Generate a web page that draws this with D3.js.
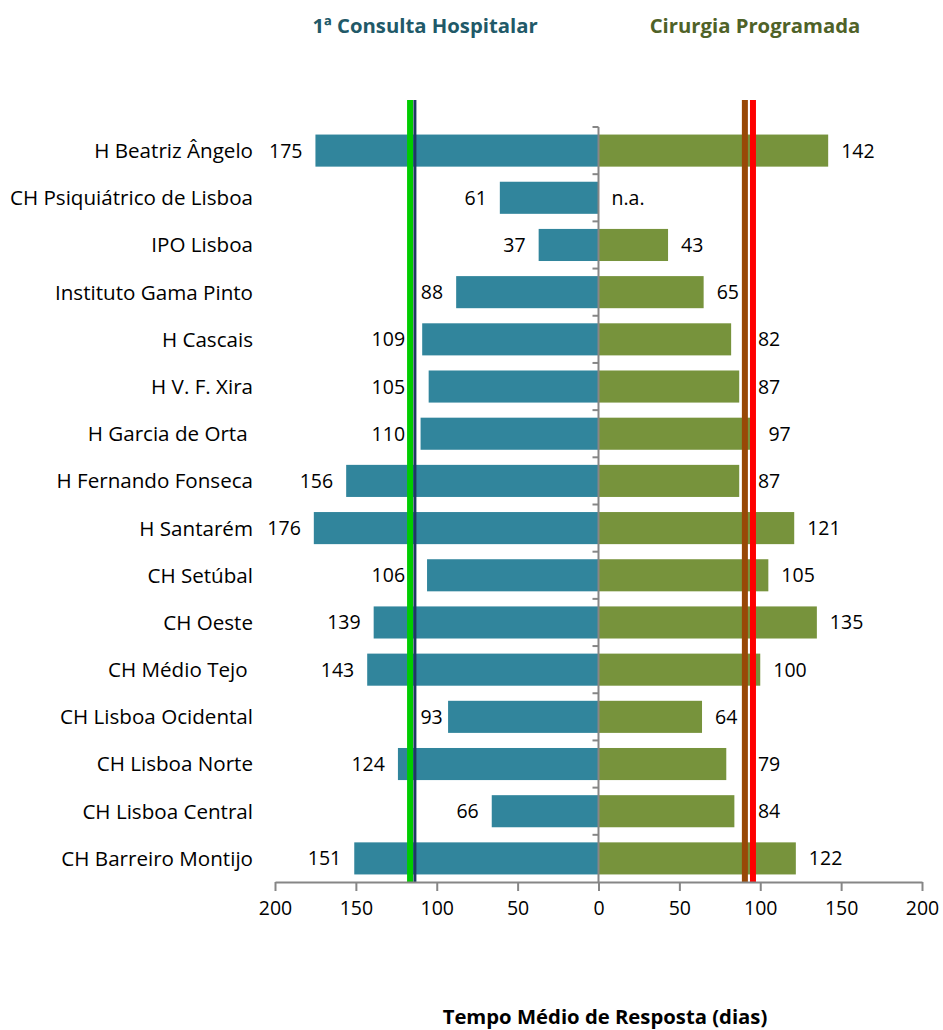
<!DOCTYPE html>
<html><head><meta charset="utf-8">
<script src="https://cdn.jsdelivr.net/npm/d3@7"></script>
<style>body{margin:0;background:#fff;} svg{display:block;font-family:"Open Sans",Lato,sans-serif;}</style>
</head><body><div id="chart"></div>
<script>
const categories = ["H Beatriz Ângelo","CH Psiquiátrico de Lisboa","IPO Lisboa","Instituto Gama Pinto","H Cascais","H V. F. Xira","H Garcia de Orta ","H Fernando Fonseca","H Santarém","CH Setúbal","CH Oeste","CH Médio Tejo ","CH Lisboa Ocidental","CH Lisboa Norte","CH Lisboa Central","CH Barreiro Montijo"];
const consulta = [175,61,37,88,109,105,110,156,176,106,139,143,93,124,66,151];
const cirurgia = [142,null,43,65,82,87,97,87,121,105,135,100,64,79,84,122];
const tickValues = [-200,-150,-100,-50,0,50,100,150,200];
const refLeft = [116.5, 113.5];
const refRight = [90.5, 95.5];
const naLabel = "n.a.";

const W = 943, H = 1030;
const svg = d3.select("#chart").append("svg").attr("width", W).attr("height", H);
const x = d3.scaleLinear().domain([-200, 200]).range([275, 922]);
const y = d3.scaleBand().domain(categories).range([127, 882]).paddingInner(0.32).paddingOuter(0.16);

const teal = "#31859C", green = "#77933C";
const fs = 19.5, fsCat = 20.6, fsTitle = 20.3;

// bars
svg.append("g").selectAll("rect").data(categories).join("rect")
  .attr("x", (d,i) => x(-consulta[i])).attr("width", (d,i) => x(0) - x(-consulta[i]))
  .attr("y", d => y(d)).attr("height", y.bandwidth()).attr("fill", teal);
svg.append("g").selectAll("rect").data(categories.filter((d,i)=>cirurgia[i]!=null)).join("rect")
  .attr("x", x(0)).attr("width", d => x(cirurgia[categories.indexOf(d)]) - x(0))
  .attr("y", d => y(d)).attr("height", y.bandwidth()).attr("fill", green);

// category labels
svg.append("g").selectAll("text").data(categories).join("text")
  .attr("x", 253).attr("y", d => y(d) + y.bandwidth()/2).attr("dy", "0.36em")
  .attr("text-anchor", "end").attr("font-size", fsCat).attr("fill", "#000")
  .style("white-space", "pre").text(d => d);

// center axis
const axisCol = "#868686";
svg.append("line").attr("x1", x(0)).attr("x2", x(0)).attr("y1", 127).attr("y2", 882).attr("stroke", axisCol).attr("stroke-width", 2);
const bounds = d3.range(categories.length).map(i => 127 + i * (882-127)/categories.length);
svg.append("g").selectAll("line").data(bounds).join("line")
  .attr("x1", x(0)-6).attr("x2", x(0)).attr("y1", d=>d).attr("y2", d=>d).attr("stroke", axisCol).attr("stroke-width", 2);

// reference lines
const refCols = ["#00CC00", "#1F3864"], refW = [6, 3];
refLeft.forEach((v,i) => svg.append("line").attr("x1", x(-v)).attr("x2", x(-v)).attr("y1", 100).attr("y2", 882)
  .attr("stroke", refCols[i]).attr("stroke-width", refW[i]));
const refColsR = ["#984807", "#FF0000"];
refRight.forEach((v,i) => svg.append("line").attr("x1", x(v)).attr("x2", x(v)).attr("y1", 100).attr("y2", 882)
  .attr("stroke", refColsR[i]).attr("stroke-width", 6));

// zones occupied by reference lines (pixel)
const zoneL = [x(-refLeft[0]) - 3, x(-refLeft[1]) + 1.5];
const zoneR = [x(refRight[0]) - 3, x(refRight[1]) + 3];
const gap = 13, pad = 2;

svg.append("g").selectAll("text").data(categories).join("text")
  .attr("y", d => y(d) + y.bandwidth()/2)
  .attr("dy", "0.36em").attr("text-anchor", "start").attr("font-size", fs).attr("fill", "#000")
  .text((d,i) => consulta[i])
  .each(function(d,i){
    const w = this.getComputedTextLength();
    const barEnd = x(-consulta[i]);
    let s = barEnd - gap - w;
    if (s < zoneL[1] && s + w > zoneL[0]) {
      const leftShift = (s + w) - (zoneL[0] - pad);
      const rightShift = (zoneL[1] + pad) - s;
      s = leftShift <= rightShift ? zoneL[0] - pad - w : zoneL[1] + pad + 2;
    }
    d3.select(this).attr("x", s);
  });
svg.append("g").selectAll("text").data(categories).join("text")
  .attr("y", d => y(d) + y.bandwidth()/2)
  .attr("dy", "0.36em").attr("text-anchor", "start").attr("font-size", fs).attr("fill", "#000")
  .text((d,i) => cirurgia[i]==null ? naLabel : cirurgia[i])
  .each(function(d,i){
    const w = this.getComputedTextLength();
    const barEnd = cirurgia[i]==null ? x(0) : x(cirurgia[i]);
    let s = barEnd + gap;
    if (s < zoneR[1] && s + w > zoneR[0]) {
      const leftShift = (s + w) - (zoneR[0] - pad);
      const rightShift = (zoneR[1] + pad) - s;
      s = leftShift < rightShift ? zoneR[0] - pad - w : zoneR[1] + pad;
    }
    d3.select(this).attr("x", s);
  });

// bottom axis
const ax = svg.append("g").attr("transform", "translate(0,882)")
  .call(d3.axisBottom(x).tickValues(tickValues).tickFormat(d => Math.abs(d)).tickSize(9).tickSizeOuter(0).tickPadding(10));
ax.select(".domain").attr("stroke", axisCol).attr("stroke-width", 2);
ax.selectAll(".tick line").attr("stroke", axisCol).attr("stroke-width", 2);
ax.selectAll(".tick text").attr("font-size", fs).attr("fill", "#000").attr("font-family", "'Open Sans',Lato,sans-serif");

// titles
svg.append("text").attr("x", 425).attr("y", 33).attr("text-anchor", "middle").attr("font-size", fsTitle)
  .attr("font-weight", "bold").attr("fill", "#215968").text("1ª Consulta Hospitalar");
svg.append("text").attr("x", 755).attr("y", 33).attr("text-anchor", "middle").attr("font-size", fsTitle)
  .attr("font-weight", "bold").attr("fill", "#4F6228").text("Cirurgia Programada");
svg.append("text").attr("x", 605).attr("y", 1024).attr("text-anchor", "middle").attr("font-size", fsTitle)
  .attr("font-weight", "bold").attr("fill", "#000").text("Tempo Médio de Resposta (dias)");
</script></body></html>
